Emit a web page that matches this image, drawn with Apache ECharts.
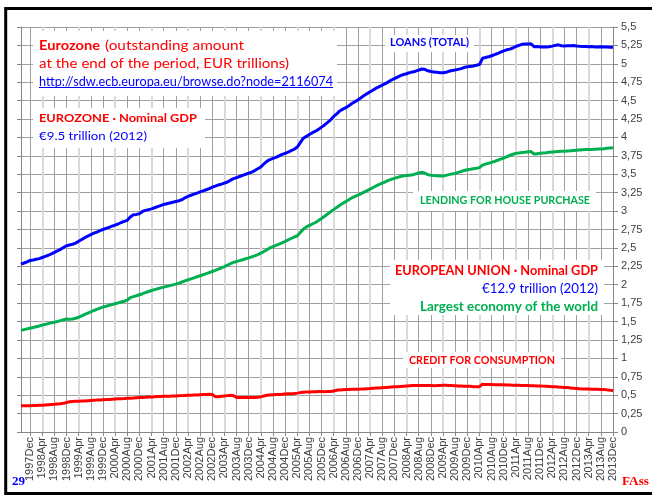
<!DOCTYPE html>
<html><head><meta charset="utf-8">
<script src="https://cdn.jsdelivr.net/npm/echarts@6/dist/echarts.min.js"></script>
<style>html,body{margin:0;padding:0;background:#fff}#c{width:652px;height:495px}</style>
</head><body><div id="c"></div>
<script>
// ---- data (monthly, 1997Sep .. 2013Dec), EUR trillions ----
const startYear = 1997, startMonth = 8; // Sep
const monthNames = ['Jan','Feb','Mar','Apr','May','Jun','Jul','Aug','Sep','Oct','Nov','Dec'];
const loansTotal = [
2.280,2.295,2.310,2.330,2.335,2.345,2.355,2.370,2.385,2.400,2.420,2.440,2.460,2.480,2.505,2.530,2.540,2.550,2.565,2.590,
2.615,2.640,2.660,2.680,2.700,2.715,2.735,2.750,2.765,2.780,2.795,2.810,2.825,2.845,2.860,2.875,2.920,2.950,2.955,2.965,
2.995,3.010,3.020,3.030,3.045,3.060,3.075,3.090,3.100,3.110,3.120,3.130,3.140,3.155,3.180,3.200,3.215,3.230,3.245,3.260,
3.275,3.290,3.305,3.325,3.340,3.355,3.365,3.380,3.395,3.420,3.440,3.455,3.470,3.485,3.500,3.515,3.530,3.550,3.575,3.600,
3.640,3.675,3.700,3.715,3.730,3.750,3.770,3.785,3.800,3.820,3.840,3.870,3.930,3.990,4.015,4.040,4.065,4.085,4.110,4.140,
4.170,4.205,4.240,4.285,4.320,4.360,4.385,4.405,4.430,4.460,4.485,4.510,4.540,4.570,4.595,4.620,4.645,4.670,4.690,4.710,
4.730,4.755,4.780,4.800,4.820,4.840,4.855,4.865,4.880,4.890,4.900,4.915,4.930,4.925,4.905,4.895,4.890,4.885,4.880,4.878,
4.885,4.900,4.910,4.915,4.925,4.935,4.950,4.960,4.965,4.970,4.980,4.990,5.075,5.085,5.095,5.110,5.125,5.140,5.160,5.175,
5.190,5.200,5.215,5.235,5.250,5.265,5.270,5.268,5.272,5.232,5.235,5.230,5.228,5.230,5.232,5.240,5.250,5.258,5.245,5.243,
5.245,5.246,5.248,5.242,5.238,5.235,5.234,5.232,5.236,5.230,5.228,5.232,5.230,5.228,5.226,5.225];
const housePurchase = [
1.380,1.390,1.400,1.410,1.420,1.430,1.440,1.452,1.462,1.472,1.482,1.490,1.500,1.512,1.524,1.534,1.532,1.534,1.545,1.558,
1.578,1.598,1.615,1.632,1.650,1.666,1.682,1.697,1.708,1.720,1.731,1.742,1.753,1.765,1.776,1.790,1.825,1.838,1.850,1.864,
1.878,1.893,1.908,1.922,1.934,1.945,1.957,1.968,1.978,1.988,1.998,2.008,2.022,2.037,2.052,2.067,2.080,2.094,2.108,2.122,
2.136,2.150,2.165,2.180,2.195,2.212,2.230,2.247,2.265,2.285,2.303,2.316,2.328,2.340,2.352,2.364,2.378,2.392,2.408,2.428,
2.452,2.476,2.500,2.518,2.535,2.552,2.570,2.588,2.608,2.628,2.648,2.665,2.710,2.755,2.785,2.805,2.825,2.845,2.872,2.900,
2.930,2.960,2.990,3.020,3.050,3.078,3.105,3.130,3.155,3.180,3.200,3.218,3.237,3.258,3.277,3.298,3.320,3.342,3.362,3.380,
3.398,3.416,3.432,3.445,3.458,3.470,3.480,3.484,3.488,3.492,3.505,3.518,3.527,3.515,3.495,3.488,3.483,3.480,3.478,3.477,
3.485,3.495,3.505,3.512,3.525,3.538,3.552,3.562,3.568,3.575,3.582,3.590,3.625,3.638,3.650,3.662,3.675,3.690,3.705,3.720,
3.738,3.755,3.772,3.784,3.790,3.795,3.800,3.806,3.808,3.775,3.780,3.784,3.788,3.792,3.798,3.802,3.806,3.810,3.812,3.814,
3.816,3.818,3.822,3.826,3.830,3.833,3.835,3.836,3.838,3.840,3.842,3.842,3.846,3.852,3.856,3.860];
const consumerCredit = [
0.355,0.356,0.357,0.358,0.359,0.360,0.362,0.364,0.367,0.370,0.373,0.376,0.380,0.384,0.389,0.400,0.410,0.414,0.416,0.418,
0.420,0.422,0.425,0.428,0.431,0.433,0.436,0.438,0.440,0.443,0.446,0.449,0.451,0.453,0.455,0.458,0.460,0.462,0.465,0.467,
0.469,0.471,0.474,0.476,0.478,0.481,0.482,0.484,0.486,0.487,0.489,0.490,0.492,0.494,0.496,0.498,0.500,0.502,0.504,0.506,
0.508,0.510,0.512,0.510,0.480,0.478,0.485,0.490,0.494,0.498,0.492,0.470,0.468,0.467,0.467,0.468,0.469,0.470,0.473,0.477,
0.490,0.498,0.502,0.505,0.508,0.510,0.512,0.515,0.518,0.520,0.522,0.528,0.535,0.540,0.542,0.544,0.546,0.548,0.549,0.549,
0.548,0.549,0.550,0.558,0.566,0.572,0.574,0.576,0.578,0.579,0.580,0.582,0.583,0.585,0.588,0.590,0.593,0.596,0.599,0.602,
0.605,0.607,0.610,0.613,0.616,0.619,0.622,0.625,0.628,0.630,0.631,0.632,0.632,0.631,0.630,0.630,0.629,0.630,0.632,0.634,
0.634,0.633,0.630,0.628,0.626,0.624,0.622,0.621,0.620,0.615,0.614,0.616,0.648,0.646,0.645,0.644,0.643,0.642,0.641,0.640,
0.638,0.637,0.636,0.635,0.634,0.632,0.631,0.630,0.629,0.628,0.626,0.625,0.623,0.621,0.619,0.616,0.613,0.610,0.608,0.605,
0.603,0.599,0.595,0.591,0.587,0.585,0.584,0.583,0.582,0.581,0.580,0.578,0.576,0.572,0.568,0.565];
const seriesNames = ['LOANS (TOTAL)', 'LENDING FOR HOUSE PURCHASE', 'CREDIT FOR CONSUMPTION'];
const yMin = 0, yMax = 5.5, yStep = 0.25;

// categories: 1997Sep .. 2013Dec
const categories = [];
for (let i = 0; i < loansTotal.length; i++) {
  const m = startMonth + i;
  categories.push((startYear + Math.floor(m / 12)) + monthNames[m % 12]);
}

// ---- styling ----
const RED = '#ff0000', BLUE = '#0000ff', GREEN = '#00b050';
const DARK_GRID = '#a0a0a0', LIGHT_GRID = '#d9d9d9', AXIS = '#868686', LBL = '#404040';
const isLabel = i => i >= 3 && (i - 3) % 4 === 0;
const isApr = i => i >= 7 && (i - 7) % 12 === 0;

const mctx = document.createElement('canvas').getContext('2d');
function fitText(str, x0, x1, yc, font, fill, z) {
  mctx.font = font;
  const w = mctx.measureText(str).width;
  return { type: 'text', x: x0, y: yc, scaleX: (x1 - x0) / w, z: z || 5,
    style: { text: str, x: 0, y: 0, font: font, fill: fill, textAlign: 'left', textVerticalAlign: 'middle' } };
}
function box(x0, y0, x1, y1) {
  return { type: 'rect', z: 1, shape: { x: x0, y: y0, width: x1 - x0, height: y1 - y0 }, style: { fill: '#fff' } };
}
const F = 'Lato, "Noto Sans", sans-serif';

const chart = echarts.init(document.getElementById('c'), null, { renderer: 'canvas' });
chart.setOption({
  animation: false,
  backgroundColor: '#fff',
  grid: { left: 21, right: 39, top: 27, bottom: 63, containLabel: false },
  xAxis: [{
    type: 'category', data: categories, boundaryGap: false,
    axisLine: { lineStyle: { color: AXIS, width: 1 } },
    axisTick: { show: true, interval: isLabel, length: 4, lineStyle: { color: AXIS } },
    axisLabel: { interval: isLabel, rotate: 90, fontSize: 11, color: LBL, margin: 5,
      fontFamily: '"Liberation Sans", Arial, sans-serif' },
    splitLine: { show: true, interval: i => isLabel(i) && !isApr(i), lineStyle: { color: DARK_GRID, width: 1 } }
  }, {
    type: 'category', data: categories, boundaryGap: false, position: 'bottom',
    axisLine: { show: false }, axisTick: { show: false }, axisLabel: { show: false },
    splitLine: { show: true, interval: isApr, lineStyle: { color: LIGHT_GRID, width: 2 } }
  }],
  yAxis: [{
    type: 'value', position: 'right', min: yMin, max: yMax, interval: yStep,
    axisLine: { show: true, lineStyle: { color: AXIS } },
    axisTick: { show: true, length: 5, lineStyle: { color: AXIS } },
    axisLabel: { fontSize: 11, color: LBL, margin: 8, fontFamily: '"Liberation Sans", Arial, sans-serif',
      formatter: v => String(+v.toFixed(2)).replace('.', ',') },
    splitLine: { show: true, lineStyle: { color: DARK_GRID, width: 1 } }
  }, {
    type: 'value', position: 'left', min: yMin, max: yMax, interval: yStep,
    axisLine: { show: true, lineStyle: { color: AXIS } },
    axisTick: { show: true, length: 4, lineStyle: { color: AXIS } },
    axisLabel: { show: false }, splitLine: { show: false }
  }],
  series: [
    { name: seriesNames[0], type: 'line', data: loansTotal, showSymbol: false, z: 3,
      lineStyle: { color: BLUE, width: 3 }, itemStyle: { color: BLUE } },
    { name: seriesNames[1], type: 'line', data: housePurchase, showSymbol: false, z: 3,
      lineStyle: { color: GREEN, width: 3 }, itemStyle: { color: GREEN } },
    { name: seriesNames[2], type: 'line', data: consumerCredit, showSymbol: false, z: 3,
      lineStyle: { color: RED, width: 3 }, itemStyle: { color: RED } }
  ],
  graphic: [
    box(33, 31, 337, 96),
    box(33, 108, 205, 148),
    box(385, 35, 474, 52),
    box(413, 191, 596, 211),
    box(390, 260, 604, 315),
    box(403, 352, 561, 368),
    fitText('Eurozone', 39, 100, 45, 'bold 14px ' + F, RED),
    fitText('(outstanding amount', 105, 244, 45, '14px ' + F, RED),
    fitText('at the end of the period, EUR trillions)', 39, 289, 63, '14px ' + F, RED),
    fitText('http://sdw.ecb.europa.eu/browse.do?node=2116074', 39, 333, 81.5, '12.5px ' + F, BLUE),
    { type: 'line', z: 5, shape: { x1: 39, y1: 87.5, x2: 333, y2: 87.5 }, style: { stroke: BLUE, lineWidth: 1 } },
    fitText('EUROZONE · Nominal GDP', 39, 197, 118, 'bold 12px ' + F, RED),
    fitText('€9.5 trillion (2012)', 39, 147, 136, '12px ' + F, BLUE),
    fitText('LOANS (TOTAL)', 390, 469, 42.7, 'bold 11.5px ' + F, BLUE),
    fitText('LENDING FOR HOUSE PURCHASE', 420, 590, 200.7, 'bold 11.5px ' + F, GREEN),
    fitText('EUROPEAN UNION · Nominal GDP', 395, 598, 271, 'bold 12.5px ' + F, RED),
    fitText('€12.9 trillion (2012)', 482, 598, 289, '12.5px ' + F, BLUE),
    fitText('Largest economy of the world', 420, 598, 306.7, 'bold 12.5px ' + F, GREEN),
    fitText('CREDIT FOR CONSUMPTION', 409, 555, 360, 'bold 12px ' + F, RED),
    fitText('29', 12, 25, 482, 'bold 12.5px "Liberation Serif", serif', BLUE),
    fitText('FAss', 622, 649, 482, 'bold 12.5px "Liberation Serif", serif', RED),
    { type: 'rect', z: 10, shape: { x: 5.7, y: 8.5, width: 700, height: 485 },
      style: { fill: 'none', stroke: '#000', lineWidth: 3 } }
  ]
});
</script></body></html>
